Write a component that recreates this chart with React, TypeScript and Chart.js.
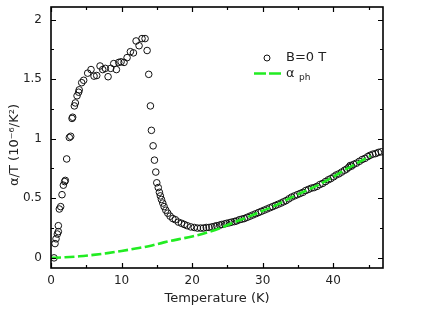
import React, { useEffect, useRef } from 'react';
import { Chart, registerables } from 'chart.js';

Chart.register(...registerables);

// Measured series: B = 0 T (open circles)
const tempB0 = [
  0.43, 0.57, 0.71, 0.9, 1.04, 1.04, 1.18, 1.37, 1.56, 1.75, 1.94, 2.03, 2.22, 2.6, 2.79,
  2.98, 3.07, 3.31, 3.45, 3.69, 3.92, 4.0, 4.35, 4.63, 5.2, 5.67, 6.1, 6.48, 6.95, 7.33,
  7.7, 8.09, 8.46, 8.89, 9.27, 9.6, 9.93, 10.35, 10.78, 11.25, 11.68, 12.06, 12.48, 12.9, 13.33,
  13.62, 13.85, 14.09, 14.23, 14.47, 14.66, 14.85, 14.99, 15.2, 15.36, 15.5, 15.65, 15.84, 16.03, 16.27,
  16.55, 16.88, 17.26, 17.63, 18.06, 18.5, 18.9, 19.3, 19.8, 20.3, 20.75, 21.2, 21.6, 22.0, 22.4,
  22.8, 23.2, 23.5, 23.9, 24.2, 24.6, 24.9, 25.3, 25.6, 26.0, 26.3, 26.7, 27.05, 27.4, 27.8,
  28.2, 28.6, 29.0, 29.4, 29.8, 30.2, 30.6, 31.0, 31.4, 31.8, 32.2, 32.6, 32.95, 33.3, 33.7,
  34.1, 34.5, 34.9, 35.3, 35.7, 36.1, 36.5, 36.9, 37.3, 37.7, 38.1, 38.5, 38.9, 39.3, 39.65,
  40.05, 40.4, 40.8, 41.2, 41.6, 41.9, 42.2, 42.4, 42.6, 42.9, 43.3, 43.7, 44.1, 44.5, 44.9,
  45.2, 45.6, 46.0, 46.4, 46.8,
];
const alphaB0 = [
  0.0, 0.12, 0.16, 0.2, 0.22, 0.27, 0.41, 0.43, 0.53, 0.61, 0.64, 0.65, 0.83, 1.01, 1.02,
  1.17, 1.18, 1.275, 1.3, 1.36, 1.39, 1.41, 1.47, 1.49, 1.55, 1.58, 1.525, 1.53, 1.61, 1.58,
  1.59, 1.52, 1.59, 1.63, 1.58, 1.64, 1.645, 1.64, 1.68, 1.73, 1.72, 1.82, 1.78, 1.84, 1.84,
  1.74, 1.54, 1.275, 1.07, 0.94, 0.82, 0.72, 0.63, 0.59, 0.55, 0.52, 0.49, 0.46, 0.43, 0.4,
  0.375, 0.35, 0.33, 0.32, 0.3, 0.29, 0.28, 0.27, 0.26, 0.255, 0.25, 0.25, 0.25, 0.255, 0.255,
  0.26, 0.265, 0.27, 0.275, 0.28, 0.285, 0.29, 0.295, 0.3, 0.305, 0.31, 0.32, 0.325, 0.33, 0.34,
  0.35, 0.36, 0.37, 0.38, 0.39, 0.4, 0.41, 0.42, 0.43, 0.44, 0.45, 0.46, 0.47, 0.48, 0.495,
  0.51, 0.52, 0.53, 0.54, 0.55, 0.565, 0.575, 0.585, 0.59, 0.6, 0.615, 0.625, 0.64, 0.655, 0.665,
  0.68, 0.695, 0.705, 0.72, 0.735, 0.745, 0.76, 0.775, 0.77, 0.785, 0.795, 0.81, 0.825, 0.835, 0.85,
  0.86, 0.87, 0.875, 0.885, 0.89,
];

// Phonon contribution (green dashed line)
const tempPh = [0, 2, 4, 6, 8, 10, 12, 14, 16, 18, 20, 22, 24, 26, 28, 30, 32, 34, 36, 38, 40, 42, 44, 45.3];
const alphaPh = [
  0, 0.005, 0.013, 0.025, 0.04, 0.058, 0.078, 0.1, 0.13, 0.155, 0.18, 0.21, 0.25, 0.3, 0.345,
  0.395, 0.445, 0.505, 0.56, 0.615, 0.68, 0.75, 0.815, 0.855,
];

const xMajorTicks = [0, 10, 20, 30, 40];
const xMinorTicks = [5, 15, 25, 35, 45];
const yMajorTicks = [0, 0.5, 1, 1.5, 2];
const yMinorTicks = [0.25, 0.75, 1.25, 1.75];

const xTitle = 'Temperature (K)';
const yTitle = 'α/T (10⁻⁶/K²)';
const legendB0 = 'B=0 T';
const legendPhMain = 'α';
const legendPhSub = 'ph';

const FONT = "'DejaVu Sans', sans-serif";
const GREEN = 'rgb(34, 236, 34)';
const TEXT = '#222';

const framePlugin = {
  id: 'frameAndLegend',
  afterDraw(chart: any) {
    const { ctx, chartArea, scales } = chart;
    const { left, right, top, bottom } = chartArea;
    const xs = scales.x;
    const ys = scales.y;
    ctx.save();
    ctx.strokeStyle = '#000';
    ctx.lineWidth = 1.6;
    ctx.setLineDash([]);
    ctx.strokeRect(left, top, right - left, bottom - top);

    ctx.lineWidth = 1.2;
    const drawX = (vals: number[], len: number) => {
      vals.forEach((v) => {
        const px = Math.round(xs.getPixelForValue(v)) + 0.5;
        ctx.beginPath();
        ctx.moveTo(px, bottom);
        ctx.lineTo(px, bottom - len);
        ctx.moveTo(px, top);
        ctx.lineTo(px, top + len);
        ctx.stroke();
      });
    };
    const drawY = (vals: number[], len: number) => {
      vals.forEach((v) => {
        const py = Math.round(ys.getPixelForValue(v)) + 0.5;
        ctx.beginPath();
        ctx.moveTo(left, py);
        ctx.lineTo(left + len, py);
        ctx.moveTo(right, py);
        ctx.lineTo(right - len, py);
        ctx.stroke();
      });
    };
    drawX(xMajorTicks, 5);
    drawX(xMinorTicks, 3);
    drawY(yMajorTicks, 5);
    drawY(yMinorTicks, 3);

    // Legend
    ctx.strokeStyle = '#111';
    ctx.lineWidth = 1;
    ctx.beginPath();
    ctx.arc(267, 58, 3, 0, Math.PI * 2);
    ctx.stroke();
    ctx.fillStyle = TEXT;
    ctx.font = `13px ${FONT}`;
    ctx.textAlign = 'left';
    ctx.textBaseline = 'middle';
    ctx.fillText(legendB0, 286, 58);

    ctx.strokeStyle = GREEN;
    ctx.lineWidth = 2.6;
    ctx.setLineDash([12, 3]);
    ctx.beginPath();
    ctx.moveTo(254, 73.5);
    ctx.lineTo(281, 73.5);
    ctx.stroke();
    ctx.setLineDash([]);
    ctx.fillText(legendPhMain, 286, 74);
    ctx.font = `9px ${FONT}`;
    ctx.fillText(legendPhSub, 299, 77.5);

    // Y axis title
    ctx.font = `13px ${FONT}`;
    ctx.translate(15, 145);
    ctx.rotate(-Math.PI / 2);
    ctx.textAlign = 'center';
    ctx.textBaseline = 'middle';
    ctx.fillText(yTitle, 0, 0);
    ctx.restore();
  },
};

export default function App() {
  const ref = useRef<HTMLCanvasElement | null>(null);

  useEffect(() => {
    document.body.style.margin = '0';
    const canvas = ref.current;
    if (!canvas) return;
    const chart = new Chart(canvas, {
      type: 'scatter',
      data: {
        datasets: [
          {
            type: 'line',
            label: 'α ph',
            data: tempPh.map((t, i) => ({ x: t, y: alphaPh[i] })),
            borderColor: GREEN,
            borderWidth: 2.6,
            borderDash: [10, 3.5],
            pointRadius: 0,
            fill: false,
            showLine: true,
            cubicInterpolationMode: 'monotone',
          } as any,
          {
            type: 'scatter',
            label: 'B=0 T',
            data: tempB0.map((t, i) => ({ x: t, y: alphaB0[i] })),
            pointStyle: 'circle',
            pointRadius: 3.3,
            pointBorderWidth: 1,
            borderColor: '#111',
            backgroundColor: 'rgba(0,0,0,0)',
            showLine: false,
          } as any,
        ],
      },
      options: {
        responsive: false,
        animation: false,
        events: [],
        layout: { padding: { left: 0, right: 53, top: 7, bottom: 0 } },
        plugins: {
          legend: { display: false },
          tooltip: { enabled: false },
        },
        scales: {
          x: {
            type: 'linear',
            min: 0,
            max: 47.05,
            grid: { display: false, drawTicks: false },
            border: { display: false },
            afterBuildTicks: (s: any) => {
              s.ticks = xMajorTicks.map((v) => ({ value: v }));
            },
            afterFit: (s: any) => {
              s.height = 49;
              s.paddingLeft = 0;
              s.paddingRight = 0;
            },
            ticks: {
              padding: 6,
              color: TEXT,
              font: { family: FONT, size: 12 },
              callback: (v: any) => String(v),
              maxRotation: 0,
            },
            title: {
              display: true,
              text: xTitle,
              color: TEXT,
              font: { family: FONT, size: 13 },
              padding: { top: 0, bottom: 11 },
            },
          },
          y: {
            type: 'linear',
            min: -0.085,
            max: 2.105,
            grid: { display: false, drawTicks: false },
            border: { display: false },
            afterBuildTicks: (s: any) => {
              s.ticks = yMajorTicks.map((v) => ({ value: v }));
            },
            afterFit: (s: any) => {
              s.width = 51;
              s.paddingTop = 0;
              s.paddingBottom = 0;
            },
            ticks: {
              padding: 9,
              color: TEXT,
              font: { family: FONT, size: 12 },
              callback: (v: any) => String(v),
            },
          },
        },
      } as any,
      plugins: [framePlugin],
    });
    return () => chart.destroy();
  }, []);

  return (
    <div style={{ width: 436, height: 317 }}>
      <canvas ref={ref} width={436} height={317} style={{ display: 'block' }} />
    </div>
  );
}
